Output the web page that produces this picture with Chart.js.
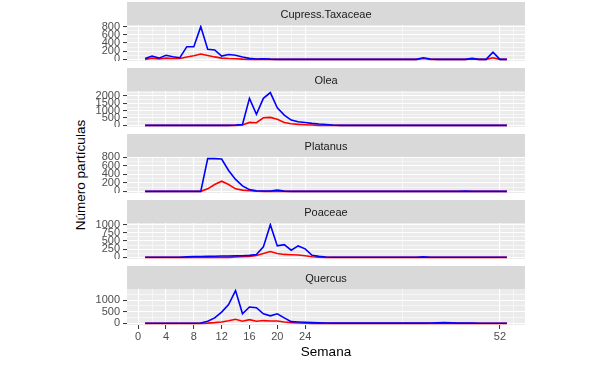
<!DOCTYPE html>
<html>
<head>
<meta charset="utf-8">
<script src="https://cdn.jsdelivr.net/npm/chart.js@4.4.1/dist/chart.umd.min.js"></script>
<style>
  body { margin: 0; background: #fff; width: 615px; height: 367px; position: relative; overflow: hidden; font-family: "Liberation Sans", Arial, sans-serif; }
  .facet { position: absolute; left: 0; }
  #ytitle { position: absolute; left: -19px; top: 167px; width: 200px; height: 16px; line-height: 16px; text-align: center; font-size: 13.5px; color: #000; transform: rotate(-90deg); }
</style>
</head>
<body>
<div id="ytitle">Número partículas</div>
<canvas class="facet" id="f0" width="615" height="59" style="top:2px"></canvas>
<canvas class="facet" id="f1" width="615" height="59" style="top:68px"></canvas>
<canvas class="facet" id="f2" width="615" height="59" style="top:134px"></canvas>
<canvas class="facet" id="f3" width="615" height="59" style="top:200px"></canvas>
<canvas class="facet" id="f4" width="615" height="101" style="top:266px"></canvas>
<script>
// semanas 1..53
const weeks = [
  1, 2, 3, 4, 5, 6, 7, 8, 9, 10,
  11, 12, 13, 14, 15, 16, 17, 18, 19, 20,
  21, 22, 23, 24, 25, 26, 27, 28, 29, 30,
  31, 32, 33, 34, 35, 36, 37, 38, 39, 40,
  41, 42, 43, 44, 45, 46, 47, 48, 49, 50,
  51, 52, 53
];

const xTicks = [0, 4, 8, 12, 16, 20, 24, 52];
const xMinor = [2, 6, 10, 14, 18, 22, 38, 54];

const cupressBlue = [
  20, 80, 30, 100, 65, 40, 310, 310, 800, 245,
  230, 80, 120, 100, 60, 25, 10, 15, 5, 0,
  0, 0, 0, 0, 0, 0, 0, 0, 0, 0,
  0, 0, 0, 0, 0, 0, 0, 0, 0, 0,
  40, 10, 0, 0, 0, 0, 0, 25, 0, 0,
  175, 0, 0
];
const cupressRed = [
  0, 30, 10, 30, 20, 20, 60, 90, 130, 95,
  60, 30, 20, 15, 5, 0, 0, 0, 0, 0,
  0, 0, 0, 0, 0, 0, 0, 0, 0, 0,
  0, 0, 0, 0, 0, 0, 0, 0, 0, 0,
  20, 0, 0, 0, 0, 0, 0, 10, 0, 0,
  40, 0, 0
];

const oleaBlue = [
  0, 0, 0, 0, 0, 0, 0, 0, 0, 0,
  0, 0, 0, 20, 60, 1840, 750, 1840, 2230, 1200,
  700, 360, 250, 200, 135, 90, 60, 20, 0, 0,
  0, 0, 0, 0, 0, 0, 0, 0, 0, 0,
  0, 0, 0, 0, 0, 0, 0, 0, 0, 0,
  0, 0, 0
];
const oleaRed = [
  0, 0, 0, 0, 0, 0, 0, 0, 0, 0,
  0, 0, 0, 0, 20, 200, 180, 520, 545, 410,
  200, 110, 70, 40, 20, 0, 0, 0, 0, 0,
  0, 0, 0, 0, 0, 0, 0, 0, 0, 0,
  0, 0, 0, 0, 0, 0, 0, 0, 0, 0,
  0, 0, 0
];

const platanusBlue = [
  0, 0, 0, 0, 0, 0, 0, 0, 0, 770,
  770, 760, 490, 280, 130, 40, 15, 10, 10, 30,
  5, 0, 0, 0, 0, 0, 0, 0, 0, 0,
  0, 0, 0, 0, 0, 0, 0, 0, 0, 0,
  0, 0, 0, 0, 0, 0, 5, 0, 0, 0,
  0, 0, 0
];
const platanusRed = [
  0, 0, 0, 0, 0, 0, 0, 0, 0, 60,
  160, 240, 160, 60, 30, 15, 5, 0, 0, 0,
  0, 0, 0, 0, 0, 0, 0, 0, 0, 0,
  0, 0, 0, 0, 0, 0, 0, 0, 0, 0,
  0, 0, 0, 0, 0, 0, 0, 0, 0, 0,
  0, 0, 0
];

const poaceaeBlue = [
  5, 5, 5, 5, 5, 5, 15, 25, 25, 30,
  35, 40, 40, 45, 50, 60, 90, 320, 1000, 350,
  390, 220, 350, 260, 65, 30, 10, 5, 5, 5,
  5, 5, 5, 5, 5, 5, 5, 5, 5, 5,
  15, 5, 5, 5, 5, 5, 5, 5, 5, 5,
  5, 5, 5
];
const poaceaeRed = [
  0, 0, 0, 0, 0, 0, 0, 0, 0, 0,
  0, 0, 0, 10, 20, 30, 60, 120, 180, 120,
  90, 80, 70, 50, 20, 5, 0, 0, 0, 0,
  0, 0, 0, 0, 0, 0, 0, 0, 0, 0,
  0, 0, 0, 0, 0, 0, 0, 0, 0, 0,
  0, 0, 0
];

const quercusBlue = [
  5, 5, 5, 5, 5, 5, 5, 5, 15, 90,
  235, 485, 810, 1410, 410, 705, 675, 410, 325, 410,
  235, 75, 60, 45, 30, 20, 15, 10, 10, 10,
  10, 10, 10, 10, 10, 10, 10, 10, 10, 10,
  10, 15, 20, 30, 20, 10, 10, 10, 5, 5,
  5, 5, 5
];
const quercusRed = [
  0, 0, 0, 0, 0, 0, 0, 0, 0, 10,
  30, 60, 110, 175, 90, 160, 90, 120, 100, 100,
  60, 30, 15, 5, 0, 0, 0, 0, 0, 0,
  0, 0, 0, 0, 0, 0, 0, 0, 0, 0,
  0, 0, 0, 0, 0, 0, 0, 0, 0, 0,
  0, 0, 0
];

const facets = [
  { id: "f0", name: "Cupress.Taxaceae", blue: cupressBlue, red: cupressRed, ticks: [0, 200, 400, 600, 800] },
  { id: "f1", name: "Olea", blue: oleaBlue, red: oleaRed, ticks: [0, 500, 1000, 1500, 2000] },
  { id: "f2", name: "Platanus", blue: platanusBlue, red: platanusRed, ticks: [0, 200, 400, 600, 800] },
  { id: "f3", name: "Poaceae", blue: poaceaeBlue, red: poaceaeRed, ticks: [0, 250, 500, 750, 1000] },
  { id: "f4", name: "Quercus", blue: quercusBlue, red: quercusRed, ticks: [0, 500, 1000] },
];

Chart.defaults.font.family = '"Liberation Sans", Arial, sans-serif';

// fondo gris del panel + franja con el nombre
const facetPlugin = {
  id: "facet",
  beforeDraw(chart, args, opts) {
    const { ctx, chartArea: a } = chart;
    ctx.save();
    ctx.fillStyle = "#EBEBEB";
    ctx.fillRect(a.left, a.top, a.right - a.left, a.bottom - a.top);
    ctx.fillStyle = "#D9D9D9";
    ctx.fillRect(a.left, a.top - 23, a.right - a.left, 23);
    ctx.fillStyle = "#1A1A1A";
    ctx.font = '11px "Liberation Sans", Arial, sans-serif';
    ctx.textAlign = "center";
    ctx.textBaseline = "middle";
    ctx.fillText(opts.text, (a.left + a.right) / 2, a.top - 10.5);
    ctx.restore();
  }
};

function points(arr) {
  return weeks.map((w, i) => ({ x: w, y: arr[i] }));
}

function noPad(s) {
  s.paddingTop = 0; s.paddingBottom = 0; s.paddingLeft = 0; s.paddingRight = 0;
}

facets.forEach((f, idx) => {
  const isLast = idx === facets.length - 1;
  const all = f.blue.concat(f.red);
  const lo = Math.min(...all), hi = Math.max(...all);
  const pad = (hi - lo) * 0.05;
  const yMin = lo - pad, yMax = hi + pad;

  const step = f.ticks[1] - f.ticks[0];
  const yMinor = [];
  for (let v = f.ticks[0] - step / 2; v <= f.ticks[f.ticks.length - 1] + step / 2; v += step) {
    if (v >= yMin && v <= yMax) yMinor.push(v);
  }
  const yAll = f.ticks.concat(yMinor).sort((a, b) => a - b);
  const xAll = xTicks.concat(xMinor).sort((a, b) => a - b);

  new Chart(document.getElementById(f.id), {
    type: "line",
    data: {
      // el primer dataset se pinta encima
      datasets: [
        { data: points(f.blue), borderColor: "#0000FF" },
        { data: points(f.red), borderColor: "#FF0000" },
      ],
    },
    options: {
      responsive: false,
      animation: false,
      layout: { padding: { top: 23, right: 90, left: 0, bottom: 0 } },
      elements: { point: { radius: 0 }, line: { borderWidth: 1.6, tension: 0 } },
      plugins: { legend: { display: false }, tooltip: { enabled: false }, facet: { text: f.name } },
      scales: {
        x: {
          type: "linear",
          min: -1.6, max: 55.6,
          border: { display: false },
          afterBuildTicks: s => { s.ticks = xAll.map(v => ({ value: v })); },
          afterFit: s => { s.height = isLast ? 42 : 0; noPad(s); },
          ticks: {
            display: isLast, autoSkip: false, maxRotation: 0, padding: 1,
            color: "#4D4D4D", font: { size: 11 },
            callback: v => xTicks.includes(v) ? String(v) : "",
          },
          grid: {
            color: "#FFFFFF",
            lineWidth: c => xTicks.includes(c.tick.value) ? 1.1 : 0.55,
            drawTicks: isLast, tickLength: 4, tickWidth: 1,
            tickColor: c => xTicks.includes(c.tick.value) ? "#333333" : "rgba(0,0,0,0)",
          },
          title: {
            display: isLast, text: "Semana", color: "#000",
            font: { size: 13.5 }, padding: { top: 0, bottom: 7 },
          },
        },
        y: {
          min: yMin, max: yMax,
          border: { display: false },
          afterBuildTicks: s => { s.ticks = yAll.map(v => ({ value: v })); },
          afterFit: s => { s.width = 127; noPad(s); },
          ticks: {
            autoSkip: false, padding: 3, color: "#4D4D4D", font: { size: 11 },
            callback: v => f.ticks.includes(v) ? String(v) : "",
          },
          grid: {
            color: "#FFFFFF",
            lineWidth: c => f.ticks.includes(c.tick.value) ? 1.1 : 0.55,
            tickLength: 4, tickWidth: 1,
            tickColor: c => f.ticks.includes(c.tick.value) ? "#333333" : "rgba(0,0,0,0)",
          },
        },
      },
    },
    plugins: [facetPlugin],
  });
});
</script>
</body>
</html>
